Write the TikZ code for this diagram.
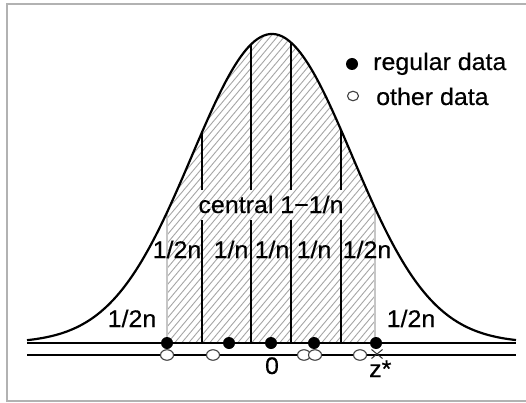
\documentclass[tikz,border=0pt]{standalone}
\usepackage{fontspec}
\setmainfont[FakeStretch=1.04,FakeBold=0.4]{Liberation Sans}
\usetikzlibrary{shapes.geometric}
\begin{document}
\begin{tikzpicture}[x=1pt,y=-1pt,
  declare function={g(\x)=343-309*exp(-0.5*((\x-272)/80)^2);},
  fdot/.style={circle,fill=black,inner sep=0pt,minimum size=12pt},
  odot/.style={ellipse,draw=black!75,line width=1.1pt,fill=white,inner sep=0pt,minimum width=13pt,minimum height=10.5pt},
  lbl/.style={inner sep=0pt,anchor=base,font=\fontsize{24}{28}\selectfont},
  thick line/.style={line width=1.9pt},
  hatch/.style={gray!70,line width=0.9pt},
  frame/.style={gray!60,line width=1.8pt}]
\useasboundingbox (0,0) rectangle (526,403);
% frame
\draw[frame] (7,402) -- (7,4) -- (527,4);
\draw[frame] (7,401) -- (527,401);
% hatched region
\begin{scope}
\clip plot[domain=167:375,samples=80] (\x,{g(\x)}) -- (375,343) -- (167,343) -- cycle;
\foreach \a in {-150,-143,...,400} \draw[hatch] (\a,346) -- ++(270,-322);
\end{scope}
% gray boundaries
\draw[gray!45,thick line] (167,343) -- (167,{g(167)});
\draw[gray!45,thick line] (375,343) -- (375,{g(375)});
% black verticals
\foreach \v in {202,251,291,341}
  \draw[thick line] (\v,343) -- (\v,220) (\v,190) -- (\v,{g(\v)});
% curve
\draw[line width=2.2pt] plot[domain=27:516,samples=160,smooth] (\x,{g(\x)});
% axis lines
\draw[thick line] (27,343) -- (516,343);
\draw[thick line] (27,355) -- (516,355);
% data
\foreach \p [count=\i] in {167,229,271,314,376}
  \node[fdot] (r\i) at (\p,343) {};
\foreach \p [count=\i] in {167,213,304,315,360}
  \node[odot] (o\i) at (\p,355) {};
\coordinate (zx) at (377,354);
\draw[line width=1pt,black!80] ([shift={(-5.5,-4.5)}]zx) -- ([shift={(5.5,4.5)}]zx)
  ([shift={(-5.5,4.5)}]zx) -- ([shift={(5.5,-4.5)}]zx);
% labels
\node[lbl] (central) at (271,213) {central 1−1/n};
\node[lbl] (m1) at (177,258) {1/2n};
\node[lbl] (m2) at (231,258) {1/n};
\node[lbl] (m3) at (272,258) {1/n};
\node[lbl] (m4) at (314,258) {1/n};
\node[lbl] (m5) at (367,258) {1/2n};
\node[lbl] (tl) at (132,327) {1/2n};
\node[lbl] (tr) at (411,327) {1/2n};
\node[lbl] (zero) at (272,374) {0};
\node[lbl,anchor=base west] (zstar) at (369,377) {z*};
% legend
\node[fdot] (lg1) at (352,64) {};
\node[lbl,anchor=base west] (lt1) at (373,70) {regular data};
\node[odot,minimum width=11pt,minimum height=9.5pt] (lg2) at (353,96) {};
\node[lbl,anchor=base west] (lt2) at (376,105) {other data};
\end{tikzpicture}
\end{document}
